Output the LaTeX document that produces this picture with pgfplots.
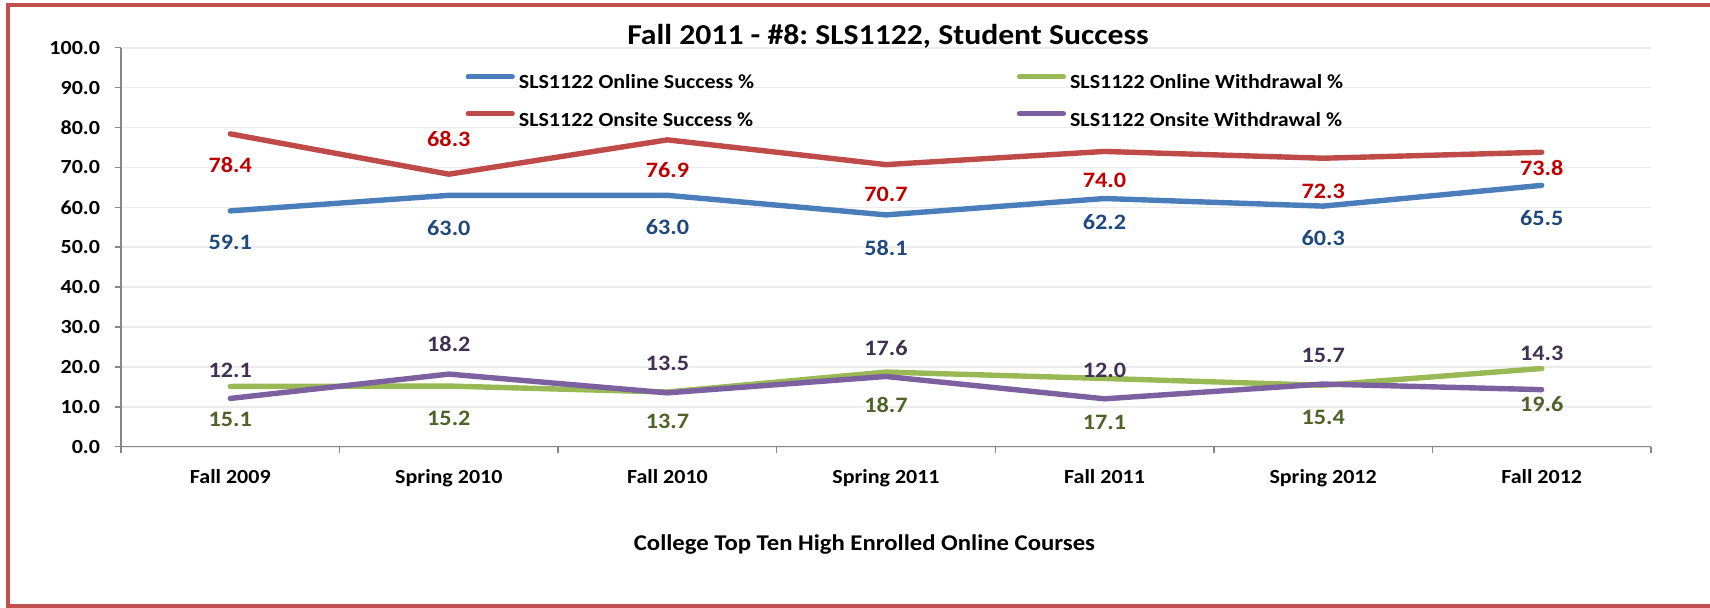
\documentclass[border=0pt]{standalone}
\usepackage{fontspec}
\setmainfont[FakeStretch=1.1]{Carlito}
\usepackage{pgfplots}
\pgfplotsset{compat=1.18}
\usepackage{pgfplotstable}
\frenchspacing

\definecolor{cBlue}{HTML}{4A7EBB}
\definecolor{cRed}{HTML}{BE4B48}
\definecolor{cGreen}{HTML}{98B954}
\definecolor{cPurple}{HTML}{7D60A0}
\definecolor{cBlueL}{HTML}{1F497D}
\definecolor{cRedL}{HTML}{C00000}
\definecolor{cGreenL}{HTML}{4F6228}
\definecolor{cPurpleL}{HTML}{403152}
\definecolor{cFrame}{HTML}{C0504D}
\definecolor{cAxis}{HTML}{868686}
\definecolor{cGrid}{HTML}{EBEBEB}

% x = category index, y = value, ly = height at which its label is centred
\pgfplotstableread{
x y ly
0 59.1 51.1
1 63.0 54.8
2 63.0 55.1
3 58.1 49.9
4 62.2 56.2
5 60.3 52.3
6 65.5 57.3
}\onlineSucc

\pgfplotstableread{
x y ly
0 78.4 70.6
1 68.3 77.2
2 76.9 69.3
3 70.7 63.3
4 74.0 66.8
5 72.3 63.9
6 73.8 69.8
}\onsiteSucc

\pgfplotstableread{
x y ly
0 15.1 6.9
1 15.2 7.1
2 13.7 6.4
3 18.7 10.5
4 17.1 6.0
5 15.4 7.4
6 19.6 10.7
}\onlineWd

\pgfplotstableread{
x y ly
0 12.1 19.2
1 18.2 25.7
2 13.5 21.0
3 17.6 24.8
4 12.0 19.2
5 15.7 23.0
6 14.3 23.5
}\onsiteWd

\begin{document}
\begin{tikzpicture}
\useasboundingbox (0,0) rectangle (855pt,303.5pt);
\fill[white] (0,0) rectangle (855pt,303.5pt);
\draw[draw=cFrame, line width=2pt] (870pt,301pt) -- (4pt,301pt) -- (4pt,0.7pt) -- (870pt,0.7pt);
\begin{axis}[
  at={(60.5pt,80.15pt)}, anchor=south west,
  scale only axis, width=765pt, height=199.5pt,
  xmin=-0.5, xmax=6.5, ymin=0, ymax=100,
  clip=false,
  axis x line*=bottom, axis y line*=left,
  axis line style={draw=cAxis, line width=0.75pt},
  tick style={draw=cAxis, line width=0.75pt},
  tick align=outside, major tick length=3pt,
  ytick={0,10,...,100},
  yticklabel style={/pgf/number format/fixed, /pgf/number format/fixed zerofill, /pgf/number format/precision=1, xshift=-4pt},
  xtick={-0.5,0.5,...,6.5}, xticklabels={},
  extra x ticks={0,1,2,3,4,5,6},
  extra x tick labels={Fall 2009, Spring 2010, Fall 2010, Spring 2011, Fall 2011, Spring 2012, Fall 2012},
  extra x tick style={major tick length=0pt, xticklabel style={anchor=base, yshift=-18.15pt}},
  tick label style={font=\fontsize{10}{12}\selectfont\bfseries, text=black},
  ymajorgrids, grid style={draw=cGrid, line width=0.8pt},
  /pgf/number format/fixed, /pgf/number format/fixed zerofill, /pgf/number format/precision=1,
  /pgf/number format/assume math mode=true,
  every axis title shift=0pt,
  title={Fall 2011 - \#8: SLS1122, Student Success},
  title style={at={(axis description cs:0.5013,1.00677)}, anchor=base, font=\fontsize{14.4}{17}\selectfont\bfseries},
  xlabel={College Top Ten High Enrolled Online Courses},
  xlabel style={at={(axis description cs:0.4859,-0.2589)}, anchor=base, font=\fontsize{11.25}{13}\selectfont\bfseries},
  legend columns=2,
  legend style={draw=none, fill=none, inner sep=0pt, at={(0.2250,0.8640)}, anchor=west,
    row sep=6pt, font=\fontsize{10}{12}\selectfont\bfseries,
    /tikz/every odd column/.append style={column sep=0pt}},
  legend image code/.code={\draw[#1, line width=2.6pt, line cap=round] (0pt,3.3pt) -- (22pt,3.3pt);},
  every axis plot/.append style={line width=2.7pt, line cap=round, line join=round, mark=none},
  label node/.style={draw=none, forget plot, nodes near coords, point meta=explicit,
    nodes near coords style={anchor=center, font=\fontsize{11}{13}\selectfont\bfseries}},
]
\addplot[color=cBlue] table[x=x, y=y] {\onlineSucc};
\addlegendentry{\makebox[247pt][l]{SLS1122 Online Success \%}}
\addplot[color=cGreen] table[x=x, y=y] {\onlineWd};
\addlegendentry{\makebox[247pt][l]{SLS1122 Online Withdrawal \%}}
\addplot[color=cRed] table[x=x, y=y] {\onsiteSucc};
\addlegendentry{\makebox[247pt][l]{SLS1122 Onsite Success \%}}
\addplot[color=cPurple] table[x=x, y=y] {\onsiteWd};
\addlegendentry{\makebox[247pt][l]{SLS1122 Onsite Withdrawal \%}}

\addplot[label node, nodes near coords style={text=cBlueL}] table[x=x, y=ly, meta=y] {\onlineSucc};
\addplot[label node, nodes near coords style={text=cRedL}] table[x=x, y=ly, meta=y] {\onsiteSucc};
\addplot[label node, nodes near coords style={text=cGreenL}] table[x=x, y=ly, meta=y] {\onlineWd};
\addplot[label node, nodes near coords style={text=cPurpleL}] table[x=x, y=ly, meta=y] {\onsiteWd};
\end{axis}
\end{tikzpicture}
\end{document}
